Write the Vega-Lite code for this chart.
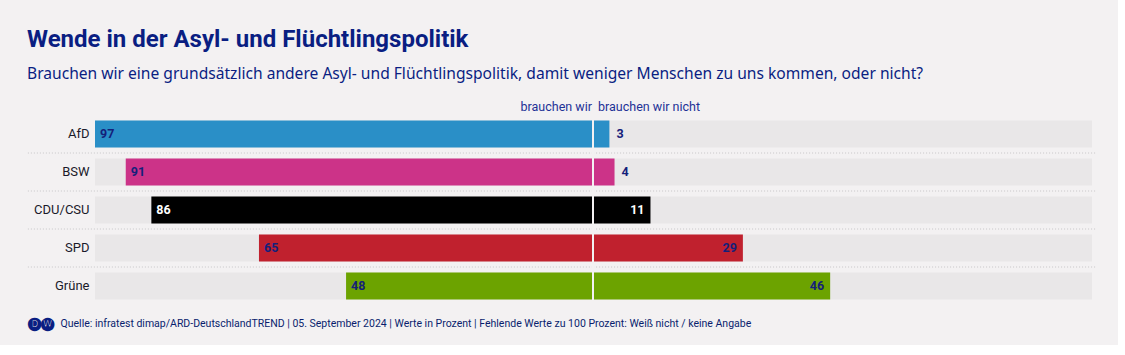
{
  "$schema": "https://vega.github.io/schema/vega-lite/v6.json",
  "background": "#f3f1f2",
  "padding": {"left": 27, "top": 27, "right": 22, "bottom": 15},
  "config": {
    "font": "Roboto",
    "view": {"stroke": null}
  },
  "title": {
    "text": "Wende in der Asyl- und Flüchtlingspolitik",
    "subtitle": "Brauchen wir eine grundsätzlich andere Asyl- und Flüchtlingspolitik, damit weniger Menschen zu uns kommen, oder nicht?",
    "anchor": "start",
    "frame": "bounds",
    "font": "Roboto",
    "fontSize": 24,
    "fontWeight": "bold",
    "color": "#0a1e82",
    "subtitleFont": "Noto Sans",
    "subtitleFontSize": 15.6,
    "subtitleColor": "#0a1e82",
    "subtitlePadding": 15,
    "offset": 18
  },
  "data": {
    "values": [
      {"party": "AfD", "wir": 97, "nicht": 3},
      {"party": "BSW", "wir": 91, "nicht": 4},
      {"party": "CDU/CSU", "wir": 86, "nicht": 11},
      {"party": "SPD", "wir": 65, "nicht": 29},
      {"party": "Grüne", "wir": 48, "nicht": 46}
    ]
  },
  "spacing": 2,
  "bounds": "flush",
  "hconcat": [
    {
      "width": 497,
      "height": 190,
      "title": {"text": "brauchen wir", "anchor": "end", "frame": "group", "fontSize": 12.5, "fontWeight": "normal", "color": "#1e3296", "offset": 2},
      "encoding": {
        "y": {
          "field": "party", "type": "nominal", "sort": null,
          "scale": {"paddingInner": 0.29, "paddingOuter": 0.145},
          "axis": {
            "title": "🅓🅦", "titleAngle": 0, "titleX": -68, "titleY": 207.5, "titleAlign": "left", "titleBaseline": "middle",
            "titleFontSize": 13, "titleColor": "#0a1e82", "titleFontWeight": "bold",
            "domain": false, "ticks": false, "labelPadding": 6, "labelFontSize": 13, "labelColor": "#1a1a2a", "grid": false
          }
        }
      },
      "layer": [
        {
          "mark": {"type": "bar", "color": "#e9e7e8"},
          "encoding": {
            "x": {
              "datum": 97, "type": "quantitative",
              "scale": {"domain": [0, 97], "reverse": true, "nice": false, "zero": true},
              "axis": {
                "title": "Quelle: infratest dimap/ARD-DeutschlandTREND | 05. September 2024 | Werte in Prozent | Fehlende Werte zu 100 Prozent: Weiß nicht / keine Angabe",
                "titleX": -35, "titleY": 21, "titleAlign": "left", "titleAnchor": null, "titleBaseline": "alphabetic",
                "titleFontSize": 10.5, "titleFontWeight": "normal", "titleColor": "#0a1e6e",
                "labels": false, "ticks": false, "domain": false, "grid": false
              }
            }
          }
        },
        {
          "mark": {"type": "bar"},
          "encoding": {
            "x": {"field": "wir", "type": "quantitative"},
            "color": {
              "field": "party", "type": "nominal", "legend": null,
              "scale": {"domain": ["AfD", "BSW", "CDU/CSU", "SPD", "Grüne"], "range": ["#2a8fc7", "#cc3388", "#000000", "#c0212e", "#6ca300"]}
            }
          }
        },
        {
          "mark": {"type": "text", "align": "left", "dx": 5, "fontWeight": "bold", "fontSize": 12.5},
          "encoding": {
            "x": {"field": "wir", "type": "quantitative"},
            "text": {"field": "wir", "type": "quantitative"},
            "color": {"condition": {"test": "datum.party === 'CDU/CSU'", "value": "#ffffff"}, "value": "#14207a"}
          }
        },
        {
          "transform": [{"filter": "datum.party !== 'AfD'"}],
          "mark": {"type": "rule", "strokeDash": [1, 2], "color": "#c9c7c8", "yOffset": -19},
          "encoding": {
            "x": {"datum": 110.1, "type": "quantitative"},
            "x2": {"datum": 0}
          }
        }
      ]
    },
    {
      "width": 498,
      "height": 190,
      "title": {"text": "brauchen wir nicht", "anchor": "start", "frame": "group", "fontSize": 12.5, "fontWeight": "normal", "color": "#1e3296", "offset": 2, "dx": 4},
      "encoding": {
        "y": {
          "field": "party", "type": "nominal", "sort": null,
          "scale": {"paddingInner": 0.29, "paddingOuter": 0.145},
          "axis": null
        }
      },
      "layer": [
        {
          "mark": {"type": "bar", "color": "#e9e7e8"},
          "encoding": {
            "x": {"datum": 97, "type": "quantitative", "scale": {"domain": [0, 97], "nice": false}, "axis": null}
          }
        },
        {
          "mark": {"type": "bar"},
          "encoding": {
            "x": {"field": "nicht", "type": "quantitative"},
            "color": {
              "field": "party", "type": "nominal", "legend": null,
              "scale": {"domain": ["AfD", "BSW", "CDU/CSU", "SPD", "Grüne"], "range": ["#2a8fc7", "#cc3388", "#000000", "#c0212e", "#6ca300"]}
            }
          }
        },
        {
          "transform": [{"filter": "datum.nicht >= 10"}],
          "mark": {"type": "text", "align": "right", "dx": -6, "fontWeight": "bold", "fontSize": 12.5},
          "encoding": {
            "x": {"field": "nicht", "type": "quantitative"},
            "text": {"field": "nicht", "type": "quantitative"},
            "color": {"condition": {"test": "datum.party === 'CDU/CSU'", "value": "#ffffff"}, "value": "#14207a"}
          }
        },
        {
          "transform": [{"filter": "datum.nicht < 10"}],
          "mark": {"type": "text", "align": "left", "dx": 7, "fontWeight": "bold", "fontSize": 12.5, "color": "#14207a"},
          "encoding": {
            "x": {"field": "nicht", "type": "quantitative"},
            "text": {"field": "nicht", "type": "quantitative"}
          }
        },
        {
          "transform": [{"filter": "datum.party !== 'AfD'"}],
          "mark": {"type": "rule", "strokeDash": [1, 2], "color": "#c9c7c8", "yOffset": -19},
          "encoding": {
            "x": {"datum": 97.6, "type": "quantitative"},
            "x2": {"datum": 0}
          }
        }
      ]
    }
  ]
}
